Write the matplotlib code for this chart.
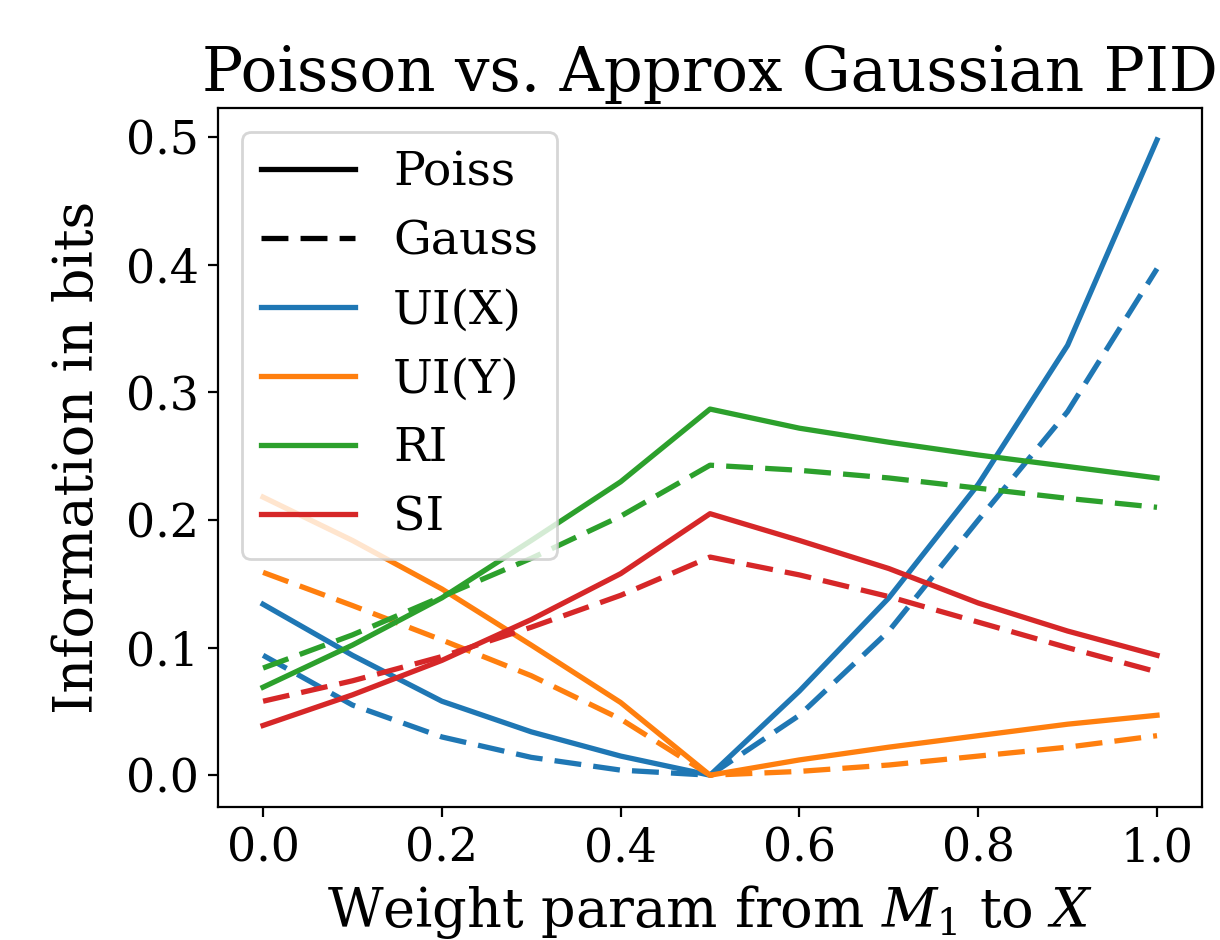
import numpy as np
import matplotlib.pyplot as plt
from matplotlib.lines import Line2D

plt.rcParams['font.family'] = 'DejaVu Serif'
plt.rcParams['mathtext.fontset'] = 'dejavuserif'

# weight parameter grid
weights = [0.0, 0.1, 0.2, 0.3, 0.4, 0.5, 0.6, 0.7, 0.8, 0.9, 1.0]

# Poisson PID (solid)
poiss_uix = [0.134, 0.094, 0.058, 0.034, 0.015, 0.0, 0.066, 0.139, 0.228, 0.337, 0.498]
poiss_uiy = [0.218, 0.184, 0.146, 0.102, 0.057, 0.0, 0.012, 0.022, 0.031, 0.040, 0.047]
poiss_ri = [0.069, 0.102, 0.139, 0.184, 0.230, 0.287, 0.272, 0.261, 0.251, 0.242, 0.233]
poiss_si = [0.039, 0.063, 0.090, 0.122, 0.158, 0.205, 0.184, 0.162, 0.135, 0.113, 0.094]

# approx Gaussian PID (dashed)
gauss_uix = [0.094, 0.055, 0.030, 0.014, 0.004, 0.0, 0.047, 0.113, 0.200, 0.285, 0.397]
gauss_uiy = [0.159, 0.133, 0.106, 0.078, 0.044, 0.0, 0.003, 0.008, 0.015, 0.022, 0.031]
gauss_ri = [0.084, 0.110, 0.140, 0.170, 0.203, 0.243, 0.239, 0.233, 0.225, 0.217, 0.210]
gauss_si = [0.058, 0.074, 0.093, 0.116, 0.141, 0.171, 0.157, 0.140, 0.120, 0.100, 0.081]

names = ['UI(X)', 'UI(Y)', 'RI', 'SI']
colors = ['tab:blue', 'tab:orange', 'tab:green', 'tab:red']

fig = plt.figure(figsize=(6.1, 4.7), dpi=200)
ax = fig.add_axes([0.179, 0.1415, 0.806, 0.7435])

lw = 1.9
dash = (5.1, 2.3)
for p, g, c in zip([poiss_uix, poiss_uiy, poiss_ri, poiss_si],
                   [gauss_uix, gauss_uiy, gauss_ri, gauss_si], colors):
    ax.plot(weights, p, color=c, lw=lw)
    ax.plot(weights, g, color=c, lw=lw, ls='--', dashes=dash)

handles = [Line2D([], [], color='k', lw=lw), Line2D([], [], color='k', lw=lw, ls='--', dashes=dash)]
handles += [Line2D([], [], color=c, lw=lw) for c in colors]
ax.legend(handles, ['Poiss', 'Gauss'] + names, loc='upper left', fontsize=17)

ax.set_title('Poisson vs. Approx Gaussian PID', fontsize=22)
ax.set_xlabel('Weight param from $M_1$ to $X$', fontsize=19.5)
ax.set_ylabel('Information in bits', fontsize=19.5, labelpad=8)
ax.tick_params(labelsize=16.5)

fig.savefig('out.png', dpi=200)
